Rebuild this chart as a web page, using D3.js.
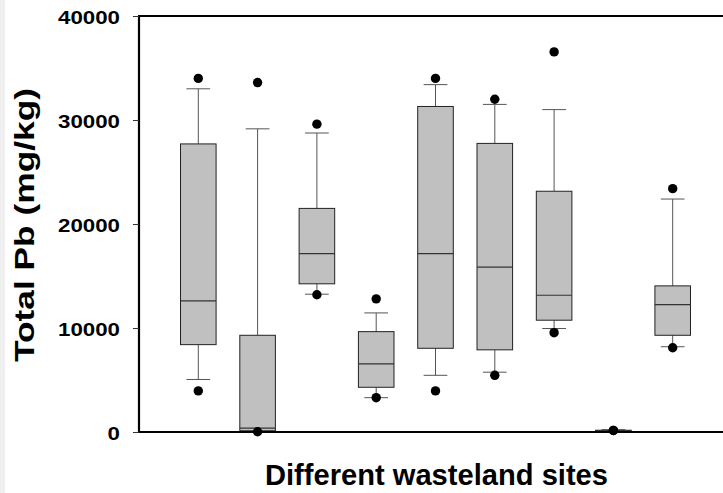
<!DOCTYPE html>
<html>
<head>
<meta charset="utf-8">
<script src="https://cdn.jsdelivr.net/npm/d3@7"></script>
<style>
  html, body { margin: 0; padding: 0; background: #fff; }
  svg { display: block; font-family: "Liberation Sans", Arial, sans-serif; }
</style>
</head>
<body>
<div id="chart"></div>
<script>
// Sites (not labelled on the axis)
const sites = ["Site 1", "Site 2", "Site 3", "Site 4", "Site 5", "Site 6", "Site 7", "Site 8", "Site 9"];

// Box statistics, mg/kg
const whiskerLow  = [5050,     0, 13250,  3300,  5450,  5750,  9950,  60,  8200];
const q1          = [8400,   120, 14250,  4300,  8050,  7900, 10750,  90,  9300];
const median      = [12600,  380, 17150,  6550, 17150, 15850, 13150, 130, 12250];
const q3          = [27700, 9300, 21500,  9650, 31300, 27750, 23150, 170, 14050];
const whiskerHigh = [33000, 29150, 28750, 11450, 33400, 31500, 31000, 220, 22400];

// Outlier dots (5th / 95th percentile)
const dotLow  = [3950,    20, 13200,  3300,  3950,  5450,  9550, 150,  8100];
const dotHigh = [34000, 33600, 29600, 12800, 34000, 32000, 36550, 150, 23400];

const yTicks = [0, 10000, 20000, 30000, 40000];

const width = 723, height = 493;
const margin = { top: 16, left: 139, bottom: 61 };

const svg = d3.select("#chart").append("svg")
  .attr("width", width)
  .attr("height", height);

// faint strip at the left edge
svg.append("rect")
  .attr("x", 0).attr("y", 0)
  .attr("width", 5).attr("height", height)
  .attr("fill", "#f0f0f0");

const x = d3.scaleLinear()
  .domain([0, sites.length + 1])
  .range([margin.left, 732]);

const y = d3.scaleLinear()
  .domain([0, 40000])
  .range([height - margin.bottom, margin.top]);

const step = x(1) - x(0);
const boxW = step * 0.6;
const capW = step * 0.4;

const data = sites.map((s, i) => ({
  site: s, pos: i + 1,
  lo: whiskerLow[i], q1: q1[i], med: median[i], q3: q3[i], hi: whiskerHigh[i],
  dLo: dotLow[i], dHi: dotHigh[i]
}));

const g = svg.append("g");

const box = g.selectAll(".box").data(data).enter().append("g").attr("class", "box");

// whiskers
box.append("line")
  .attr("x1", d => x(d.pos)).attr("x2", d => x(d.pos))
  .attr("y1", d => y(d.q3)).attr("y2", d => y(d.hi))
  .attr("stroke", "#555").attr("stroke-width", 1);
box.append("line")
  .attr("x1", d => x(d.pos)).attr("x2", d => x(d.pos))
  .attr("y1", d => y(d.q1)).attr("y2", d => y(d.lo))
  .attr("stroke", "#555").attr("stroke-width", 1);

// caps
box.append("line")
  .attr("x1", d => x(d.pos) - capW / 2).attr("x2", d => x(d.pos) + capW / 2)
  .attr("y1", d => y(d.hi)).attr("y2", d => y(d.hi))
  .attr("stroke", "#555").attr("stroke-width", 1);
box.append("line")
  .attr("x1", d => x(d.pos) - capW / 2).attr("x2", d => x(d.pos) + capW / 2)
  .attr("y1", d => y(d.lo)).attr("y2", d => y(d.lo))
  .attr("stroke", "#555").attr("stroke-width", 1);

// box
box.append("rect")
  .attr("x", d => x(d.pos) - boxW / 2)
  .attr("width", boxW)
  .attr("y", d => y(d.q3))
  .attr("height", d => y(d.q1) - y(d.q3))
  .attr("fill", "#c0c0c0")
  .attr("stroke", "#222")
  .attr("stroke-width", 1);

// median
box.append("line")
  .attr("x1", d => x(d.pos) - boxW / 2).attr("x2", d => x(d.pos) + boxW / 2)
  .attr("y1", d => y(d.med)).attr("y2", d => y(d.med))
  .attr("stroke", "#333").attr("stroke-width", 1.2);

// outlier dots
box.append("circle")
  .attr("cx", d => x(d.pos)).attr("cy", d => y(d.dHi))
  .attr("r", 4.7).attr("fill", "#000");
box.append("circle")
  .attr("cx", d => x(d.pos)).attr("cy", d => y(d.dLo))
  .attr("r", 4.7).attr("fill", "#000");

// frame: left axis, bottom axis, top line
svg.append("line")
  .attr("x1", margin.left).attr("x2", margin.left)
  .attr("y1", y(40000)).attr("y2", y(0))
  .attr("stroke", "#000").attr("stroke-width", 2.2);
svg.append("line")
  .attr("x1", margin.left - 1).attr("x2", width)
  .attr("y1", y(0)).attr("y2", y(0))
  .attr("stroke", "#000").attr("stroke-width", 2.2);
svg.append("line")
  .attr("x1", margin.left - 1).attr("x2", width)
  .attr("y1", y(40000)).attr("y2", y(40000))
  .attr("stroke", "#000").attr("stroke-width", 2.2);

// y axis ticks and labels
const yAxis = svg.append("g")
  .attr("transform", "translate(" + margin.left + ",0)")
  .call(d3.axisLeft(y).tickValues(yTicks).tickSize(6).tickPadding(13).tickFormat(d3.format("d")));
yAxis.select(".domain").remove();
yAxis.selectAll(".tick line").attr("stroke", "#333");
yAxis.selectAll(".tick text")
  .attr("font-size", 19)
  .attr("font-weight", "bold")
  .attr("font-family", "'Liberation Sans', Arial, sans-serif")
  .attr("fill", "#000")
  .attr("dy", "0.42em")
  .attr("textLength", d => String(d).length * 12.4)
  .attr("lengthAdjust", "spacingAndGlyphs");

// axis titles
svg.append("text")
  .attr("x", 436.5)
  .attr("y", 485)
  .attr("text-anchor", "middle")
  .attr("font-size", 29)
  .attr("font-weight", "bold")
  .attr("textLength", 343)
  .attr("lengthAdjust", "spacingAndGlyphs")
  .text("Different wasteland sites");

svg.append("text")
  .attr("transform", "translate(34,225) rotate(-90)")
  .attr("text-anchor", "middle")
  .attr("font-size", 28)
  .attr("font-weight", "bold")
  .attr("textLength", 274)
  .attr("lengthAdjust", "spacingAndGlyphs")
  .text("Total Pb (mg/kg)");
</script>
</body>
</html>
